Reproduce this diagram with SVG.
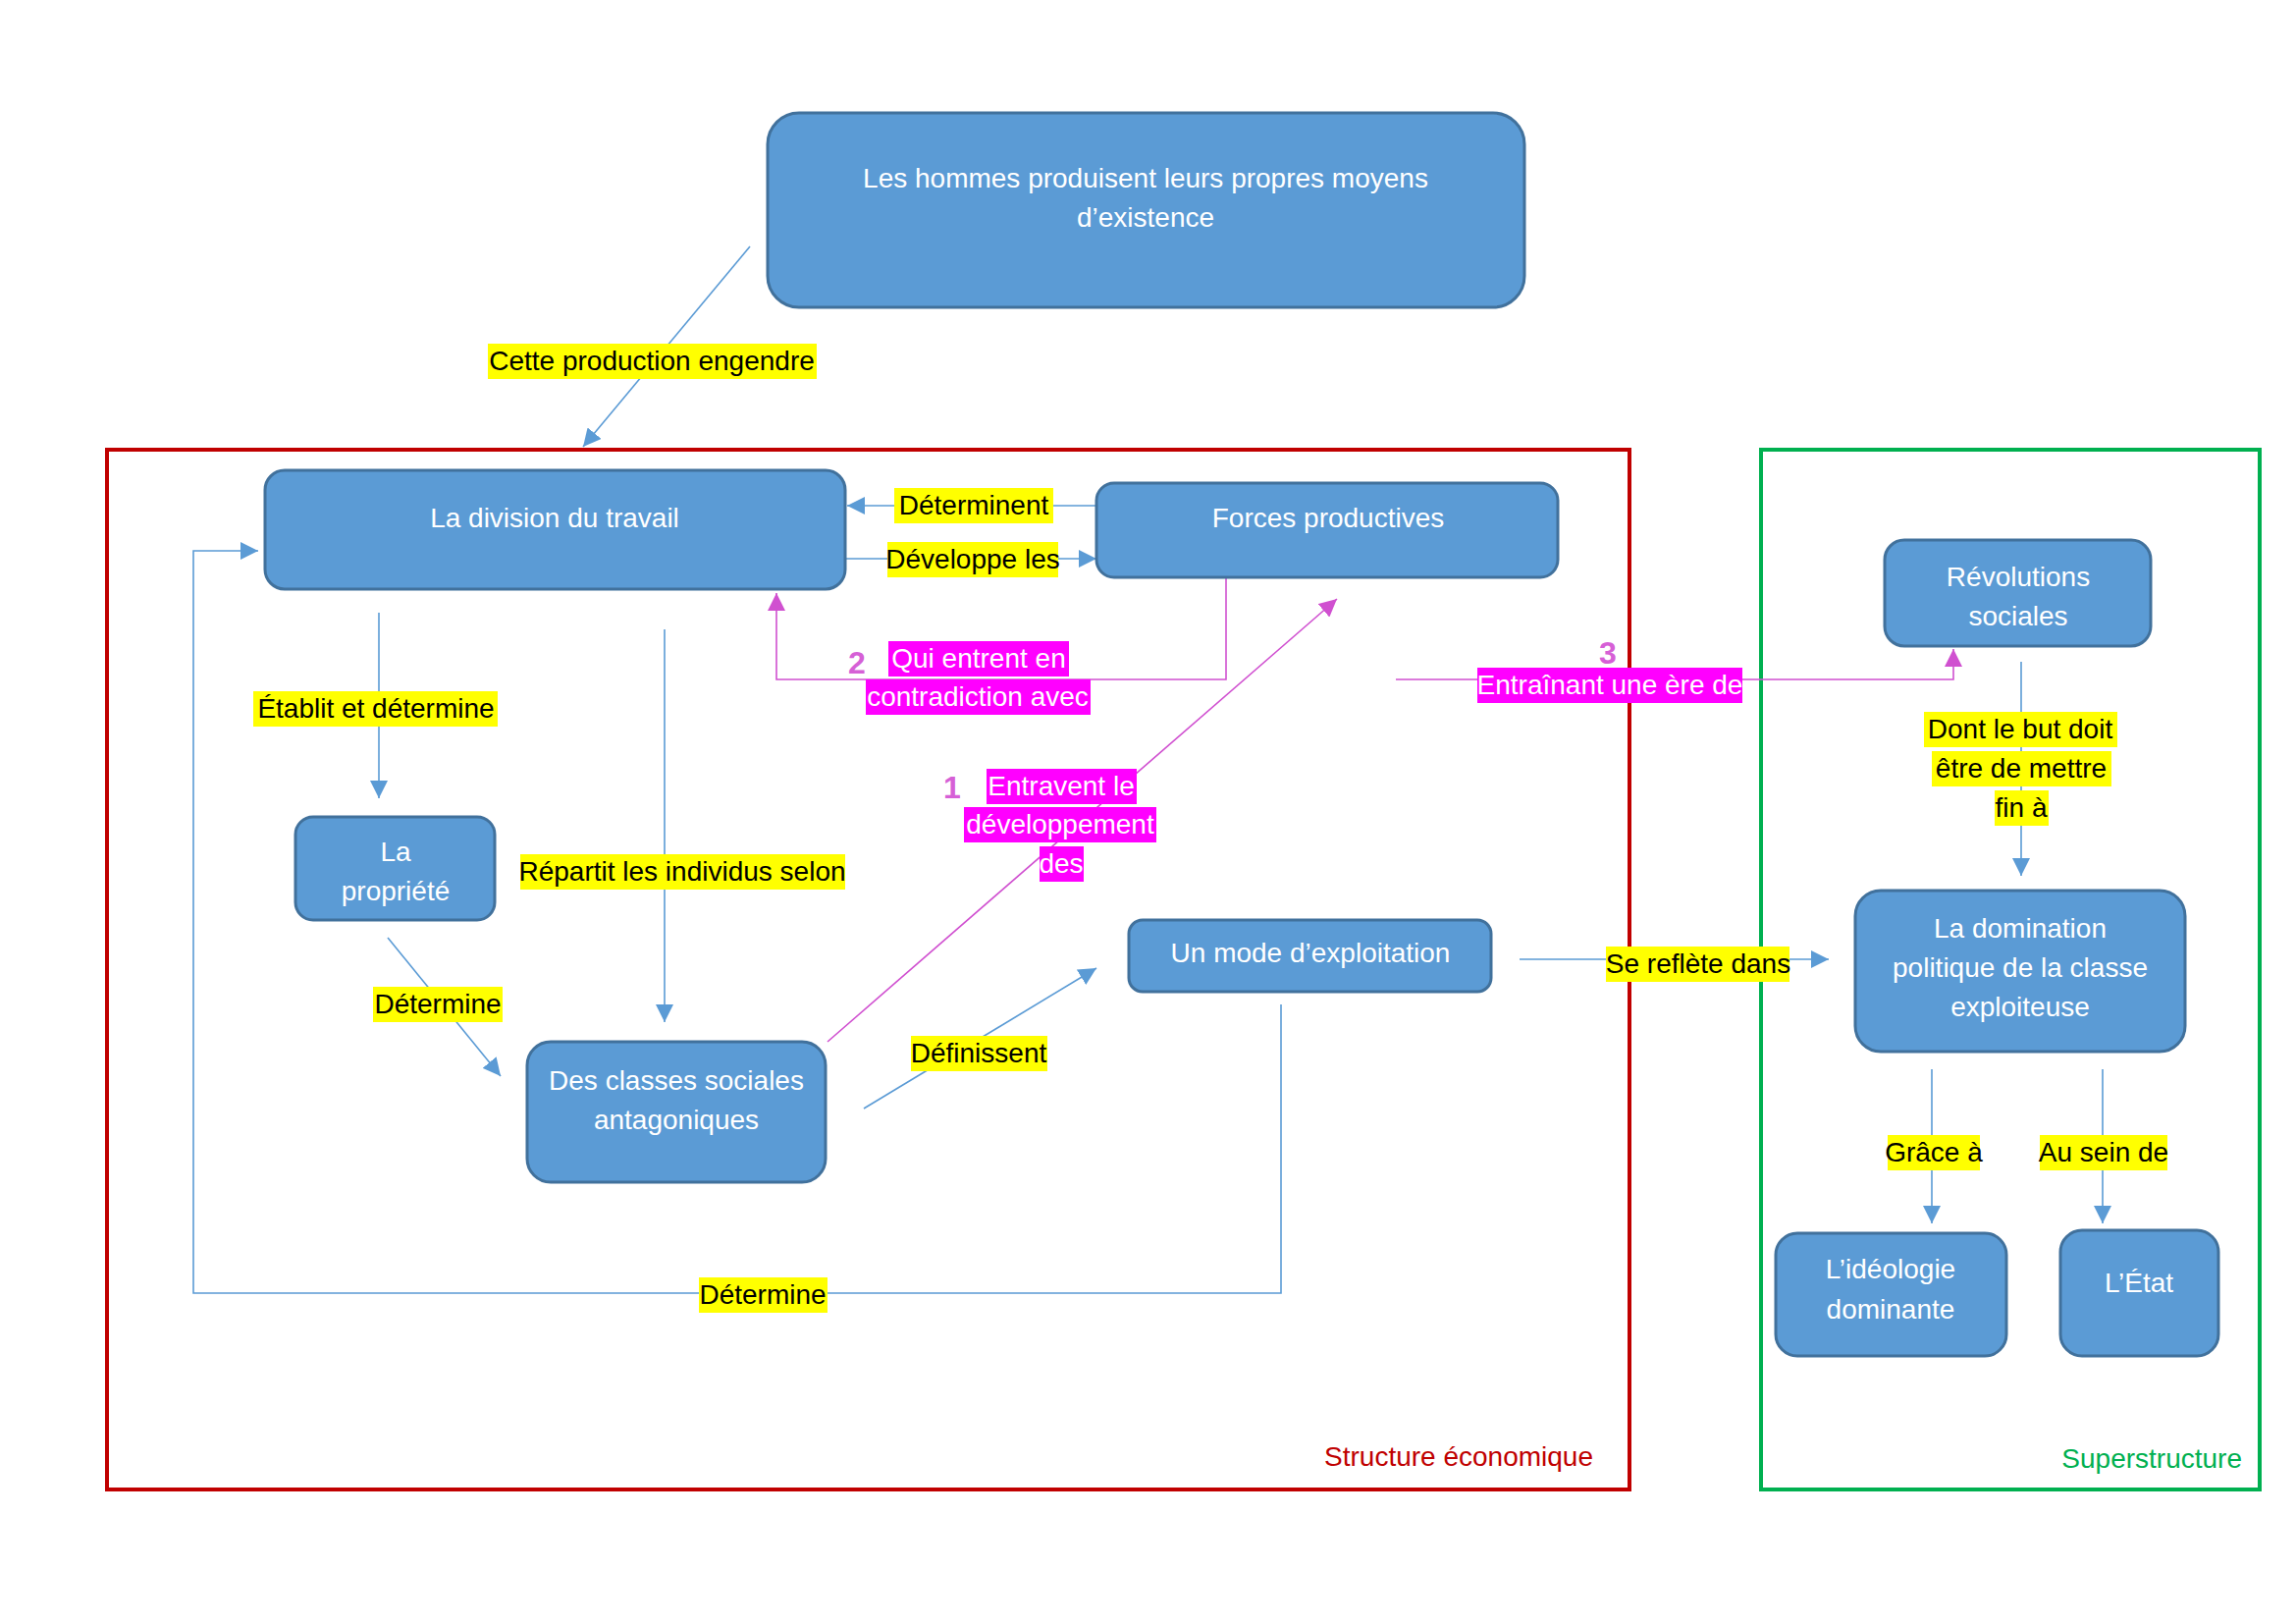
<svg xmlns="http://www.w3.org/2000/svg" width="2339" height="1654" viewBox="0 0 2339 1654">
<style>
text{font-family:"Liberation Sans",Arial,sans-serif;font-size:28px}
.node rect{fill:#5B9BD5;stroke:#41719C;stroke-width:3}
.node text{fill:#FFFFFF;text-anchor:middle}
.c{fill:none;stroke:#5B9BD5;stroke-width:1.6}
.p{fill:none;stroke:#D050D0;stroke-width:1.6}
.hy{fill:#FFFF00}
.hm{fill:#FF00FF}
.ly{fill:#000000;text-anchor:middle}
.lm{fill:#FFFFFF;text-anchor:middle}
.num{fill:#D660D6;font-weight:bold;font-size:32px;text-anchor:middle}
</style>
<defs>
<marker id="ab" markerUnits="userSpaceOnUse" markerWidth="20" markerHeight="18" refX="18" refY="9" orient="auto"><path d="M0,0 L18,9 L0,18 Z" fill="#5B9BD5"/></marker>
<marker id="ap" markerUnits="userSpaceOnUse" markerWidth="20" markerHeight="18" refX="18" refY="9" orient="auto"><path d="M0,0 L18,9 L0,18 Z" fill="#D050D0"/></marker>
</defs>
<rect width="2339" height="1654" fill="#FFFFFF"/>

<g id="structure-economique">
<rect x="109" y="458" width="1551" height="1059" fill="none" stroke="#C00000" stroke-width="4"/>
<text x="1623" y="1493" fill="#C00000" text-anchor="end">Structure économique</text>
</g>
<g id="superstructure">
<rect x="1794" y="458" width="508" height="1059" fill="none" stroke="#00B050" stroke-width="4"/>
<text x="2284" y="1495" fill="#00B050" text-anchor="end">Superstructure</text>
</g>

<g id="connectors">
<line class="c" x1="764" y1="251" x2="594" y2="455" marker-end="url(#ab)"/>
<line class="c" x1="1117" y1="515" x2="863" y2="515" marker-end="url(#ab)"/>
<line class="c" x1="861" y1="569" x2="1117" y2="569" marker-end="url(#ab)"/>
<line class="c" x1="386" y1="624" x2="386" y2="813" marker-end="url(#ab)"/>
<line class="c" x1="677" y1="641" x2="677" y2="1041" marker-end="url(#ab)"/>
<line class="c" x1="395" y1="955" x2="510" y2="1096" marker-end="url(#ab)"/>
<line class="c" x1="880" y1="1129" x2="1117" y2="986" marker-end="url(#ab)"/>
<polyline class="c" points="1305,1023 1305,1317 197,1317 197,561 263,561" marker-end="url(#ab)"/>
<line class="c" x1="1548" y1="977" x2="1863" y2="977" marker-end="url(#ab)"/>
<line class="c" x1="2059" y1="674" x2="2059" y2="892" marker-end="url(#ab)"/>
<line class="c" x1="1968" y1="1089" x2="1968" y2="1246" marker-end="url(#ab)"/>
<line class="c" x1="2142" y1="1089" x2="2142" y2="1246" marker-end="url(#ab)"/>
<line class="p" x1="843" y1="1061" x2="1362" y2="610" marker-end="url(#ap)"/>
<polyline class="p" points="1249,588 1249,692 791,692 791,604" marker-end="url(#ap)"/>
<polyline class="p" points="1422,692 1990,692 1990,661" marker-end="url(#ap)"/>

<g id="labels">
<rect class="hy" x="497" y="350" width="335" height="36"/><text class="ly" x="664" y="377">Cette production engendre</text>
<rect class="hy" x="911" y="497" width="162" height="36"/><text class="ly" x="992" y="524">Déterminent</text>
<rect class="hy" x="904" y="552" width="174" height="36"/><text class="ly" x="991" y="579">Développe les</text>
<rect class="hy" x="258" y="704" width="249" height="36"/><text class="ly" x="383" y="731">Établit et détermine</text>
<rect class="hy" x="530" y="870" width="331" height="36"/><text class="ly" x="695" y="897">Répartit les individus selon</text>
<rect class="hy" x="380" y="1005" width="132" height="36"/><text class="ly" x="446" y="1032">Détermine</text>
<rect class="hy" x="928" y="1055" width="139" height="36"/><text class="ly" x="997" y="1082">Définissent</text>
<rect class="hy" x="712" y="1301" width="131" height="36"/><text class="ly" x="777" y="1328">Détermine</text>
<rect class="hy" x="1636" y="964" width="187" height="36"/><text class="ly" x="1730" y="991">Se reflète dans</text>
<rect class="hy" x="1960" y="725" width="197" height="36"/><text class="ly" x="2058" y="752">Dont le but doit</text>
<rect class="hy" x="1968" y="765" width="183" height="36"/><text class="ly" x="2059" y="792">être de mettre</text>
<rect class="hy" x="2032" y="805" width="55" height="36"/><text class="ly" x="2059" y="832">fin à</text>
<rect class="hy" x="1923" y="1156" width="94" height="36"/><text class="ly" x="1970" y="1183">Grâce à</text>
<rect class="hy" x="2078" y="1156" width="130" height="36"/><text class="ly" x="2143" y="1183">Au sein de</text>
<rect class="hm" x="905" y="653" width="184" height="36"/><text class="lm" x="997" y="680">Qui entrent en</text>
<rect class="hm" x="882" y="692" width="229" height="36"/><text class="lm" x="996" y="719">contradiction avec</text>
<rect class="hm" x="1005" y="783" width="153" height="36"/><text class="lm" x="1081" y="810">Entravent le</text>
<rect class="hm" x="982" y="822" width="196" height="36"/><text class="lm" x="1080" y="849">développement</text>
<rect class="hm" x="1059" y="862" width="45" height="36"/><text class="lm" x="1081" y="889">des</text>
<rect class="hm" x="1505" y="680" width="270" height="36"/><text class="lm" x="1640" y="707">Entraînant une ère de</text>
<text class="num" x="873" y="686">2</text>
<text class="num" x="970" y="813">1</text>
<text class="num" x="1638" y="676">3</text>
</g>
</g>

<g id="n-hommes" class="node"><rect x="782" y="115" width="771" height="198" rx="32"/><text x="1167" y="191">Les hommes produisent leurs propres moyens</text><text x="1167" y="231">d’existence</text></g>
<g id="n-division" class="node"><rect x="270" y="479" width="591" height="121" rx="20"/><text x="565" y="537">La division du travail</text></g>
<g id="n-forces" class="node"><rect x="1117" y="492" width="470" height="96" rx="18"/><text x="1353" y="537">Forces productives</text></g>
<g id="n-propriete" class="node"><rect x="301" y="832" width="203" height="105" rx="18"/><text x="403" y="877">La</text><text x="403" y="917">propriété</text></g>
<g id="n-classes" class="node"><rect x="537" y="1061" width="304" height="143" rx="24"/><text x="689" y="1110">Des classes sociales</text><text x="689" y="1150">antagoniques</text></g>
<g id="n-mode" class="node"><rect x="1150" y="937" width="369" height="73" rx="14"/><text x="1335" y="980">Un mode d’exploitation</text></g>
<g id="n-revolutions" class="node"><rect x="1920" y="550" width="271" height="108" rx="20"/><text x="2056" y="597">Révolutions</text><text x="2056" y="637">sociales</text></g>
<g id="n-domination" class="node"><rect x="1890" y="907" width="336" height="164" rx="26"/><text x="2058" y="955">La domination</text><text x="2058" y="995">politique de la classe</text><text x="2058" y="1035">exploiteuse</text></g>
<g id="n-ideologie" class="node"><rect x="1809" y="1256" width="235" height="125" rx="22"/><text x="1926" y="1302">L’idéologie</text><text x="1926" y="1343">dominante</text></g>
<g id="n-etat" class="node"><rect x="2099" y="1253" width="161" height="128" rx="22"/><text x="2179" y="1316">L’État</text></g>
</svg>
